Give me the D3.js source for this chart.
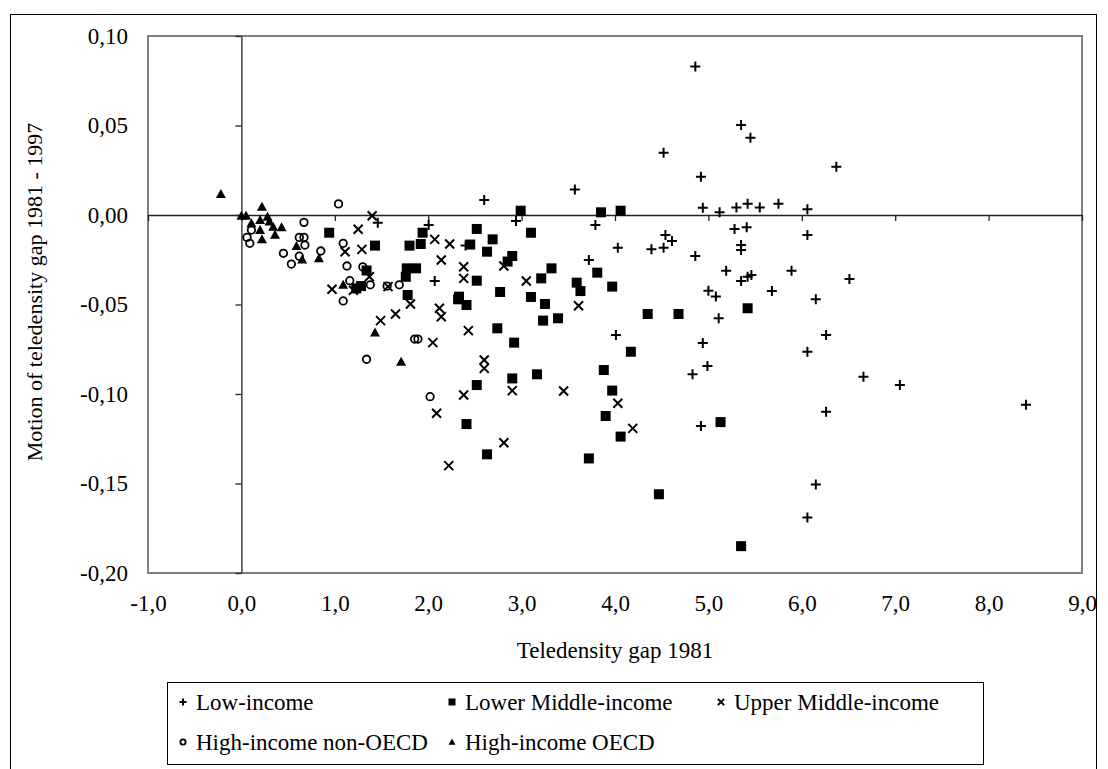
<!DOCTYPE html>
<html>
<head>
<meta charset="utf-8">
<script src="https://cdn.jsdelivr.net/npm/d3@7"></script>
<style>
body { margin: 0; background: #fff; }
svg text { font-family: "Liberation Serif", "Times New Roman", Times, "DejaVu Serif", serif; fill: #000; }
</style>
</head>
<body>
<div id="chart"></div>
<script>
var w = 1108;
var h = 769;
var serif = "'Liberation Serif', 'Times New Roman', Times, 'DejaVu Serif', serif";

// values, [teledensity gap 1981, motion 1981-1997]
var lowIncome = [[2.60,0.0084],[1.46,-0.0043],[2.005,-0.0056],[2.40,-0.017],[2.07,-0.0369],[2.94,-0.0034],
  [4.52,0.0348],[4.92,0.0214],[3.57,0.0143],[4.94,0.0040],[5.12,0.0016],[3.79,-0.0056],[4.03,-0.0183],
  [4.54,-0.0112],[4.61,-0.0145],[4.52,-0.0183],[4.39,-0.0192],[4.86,-0.0229],[3.72,-0.0251],[5.0,-0.0423],
  [5.08,-0.0455],[4.01,-0.067],[4.94,-0.0715],[4.99,-0.0843],[4.83,-0.089],[4.92,-0.1179],[5.11,-0.0577],
  [4.86,0.083],[5.35,0.0503],[5.45,0.0432],[6.37,0.027],[5.30,0.0042],[5.42,0.0063],[5.55,0.0042],
  [5.75,0.0063],[6.06,0.0032],[5.28,-0.0078],[5.41,-0.0069],[5.35,-0.0168],[5.35,-0.0196],[6.06,-0.0112],
  [5.19,-0.0311],[5.89,-0.0311],[5.35,-0.0369],[5.42,-0.0345],[5.46,-0.0335],[6.51,-0.0358],[5.68,-0.0425],
  [6.15,-0.0471],[6.26,-0.067],[6.06,-0.0764],[6.66,-0.0903],[7.05,-0.095],[6.26,-0.1099],[6.15,-0.1505],
  [6.06,-0.169],[8.40,-0.106]];
var lowerMiddle = [[0.94,-0.0099],[1.43,-0.0171],[1.34,-0.031],[1.28,-0.0397],[1.23,-0.041],[1.94,-0.0099],
  [1.92,-0.0162],[1.80,-0.0171],[2.45,-0.0165],[2.52,-0.0078],[2.69,-0.0136],[2.63,-0.0205],[2.90,-0.0229],
  [2.85,-0.026],[2.52,-0.0367],[1.77,-0.0298],[1.87,-0.0298],[1.76,-0.0345],[2.77,-0.043],[2.99,0.0024],
  [3.10,-0.0099],[1.78,-0.0447],[2.33,-0.0456],[3.10,-0.0458],[3.85,0.0015],[4.06,0.0024],[3.32,-0.0298],
  [3.21,-0.0354],[3.81,-0.0322],[3.59,-0.0378],[3.63,-0.0425],[3.97,-0.040],[3.25,-0.0497],[3.23,-0.059],
  [3.39,-0.0577],[4.35,-0.0553],[4.68,-0.0553],[4.17,-0.0764],[3.165,-0.089],[3.88,-0.0866],[3.97,-0.0981],
  [3.90,-0.1123],[4.06,-0.1238],[3.72,-0.136],[5.13,-0.1157],[2.32,-0.0471],[2.41,-0.0503],[2.74,-0.0633],
  [2.92,-0.0713],[2.90,-0.0913],[2.52,-0.095],[2.41,-0.1168],[2.63,-0.1337],[5.42,-0.0521],[5.35,-0.185],
  [4.47,-0.156]];
var upperMiddle = [[0.97,-0.0415],[1.40,-0.0004],[1.25,-0.008],[1.11,-0.0205],[1.29,-0.0192],[1.37,-0.0345],
  [1.20,-0.042],[1.57,-0.040],[2.07,-0.0136],[2.23,-0.0162],[2.14,-0.0251],[2.81,-0.0285],[2.38,-0.0289],
  [2.38,-0.0354],[3.05,-0.0369],[1.81,-0.0497],[1.65,-0.0553],[1.49,-0.059],[2.12,-0.0521],[2.14,-0.0568],
  [2.05,-0.0713],[2.43,-0.0646],[2.60,-0.081],[2.60,-0.0857],[2.90,-0.0981],[2.38,-0.1006],[2.09,-0.1108],
  [2.81,-0.1272],[2.22,-0.140],[3.61,-0.0507],[3.45,-0.0983],[4.03,-0.1052],[4.19,-0.1192]];
var highNonOecd = [[1.04,0.0062],[0.107,-0.0084],[0.06,-0.0125],[0.09,-0.0158],[0.67,-0.0041],[0.62,-0.0125],
  [0.67,-0.0125],[0.68,-0.0168],[0.62,-0.023],[0.45,-0.0214],[0.535,-0.0274],[0.85,-0.0201],[1.09,-0.0158],
  [1.13,-0.0285],[1.30,-0.029],[1.16,-0.0367],[1.38,-0.039],[1.56,-0.0397],[1.69,-0.039],[1.09,-0.048],
  [1.855,-0.0693],[1.89,-0.0693],[1.34,-0.0806],[2.02,-0.1015]];
var highOecd = [[-0.22,0.0117],[0.0,-0.0004],[0.05,-0.0004],[0.22,0.0046],[0.107,-0.0046],[0.2,-0.0028],
  [0.28,-0.001],[0.30,-0.0037],[0.34,-0.0065],[0.43,-0.0069],[0.36,-0.011],[0.22,-0.0136],[0.2,-0.0084],
  [0.59,-0.0173],[0.65,-0.0248],[0.83,-0.0242],[1.09,-0.039],[1.43,-0.0657],[1.71,-0.082]];

var seriesNames = ["Low-income", "Lower Middle-income", "Upper Middle-income", "High-income non-OECD", "High-income OECD"];
var seriesData = [lowIncome, lowerMiddle, upperMiddle, highNonOecd, highOecd];
var seriesShapes = ["plus", "square", "cross", "circle", "triangle"];

var xTicks = [-1, 0, 1, 2, 3, 4, 5, 6, 7, 8, 9];
var yTicks = [0.10, 0.05, 0.00, -0.05, -0.10, -0.15, -0.20];

var locale = d3.formatLocale({decimal: ",", thousands: ".", grouping: [3], currency: ["", ""], minus: "-"});
var fmtX = locale.format(".1f");
var fmtY = locale.format(".2f");

var svg = d3.select("#chart").append("svg")
    .attr("width", w)
    .attr("height", h);

// outer frame
svg.append("rect")
    .attr("x", 10.5).attr("y", 14.5)
    .attr("width", 1086).attr("height", 800)
    .attr("fill", "none").attr("stroke", "#000").attr("stroke-width", 1);

var x = d3.scaleLinear().domain([-1, 9]).range([148, 1082]);
var y = d3.scaleLinear().domain([-0.2, 0.1]).range([573, 36]);

// plot area border
svg.append("rect")
    .attr("x", x(-1)).attr("y", y(0.1))
    .attr("width", x(9) - x(-1)).attr("height", y(-0.2) - y(0.1))
    .attr("fill", "none").attr("stroke", "#808080").attr("stroke-width", 2);

// zero axes with ticks
svg.append("g")
    .attr("transform", "translate(0," + y(0) + ")")
    .call(d3.axisBottom(x).tickValues(xTicks).tickSize(6).tickSizeOuter(0).tickFormat(""));
svg.append("g")
    .attr("transform", "translate(" + x(0) + ",0)")
    .call(d3.axisLeft(y).tickValues(yTicks).tickSize(6).tickSizeOuter(0).tickFormat(""));
svg.selectAll(".domain, .tick line").attr("stroke", "#222").attr("stroke-width", 1.3);

// tick labels along the plot edges
var xLab = svg.append("g")
    .attr("transform", "translate(0," + y(-0.2) + ")")
    .call(d3.axisBottom(x).tickValues(xTicks).tickSize(0).tickPadding(22).tickFormat(fmtX));
var yLab = svg.append("g")
    .attr("transform", "translate(" + x(-1) + ",0)")
    .call(d3.axisLeft(y).tickValues(yTicks).tickSize(0).tickPadding(20).tickFormat(fmtY));
xLab.select(".domain").remove();
yLab.select(".domain").remove();
xLab.attr("font-family", serif).attr("font-size", 23);
yLab.attr("font-family", serif).attr("font-size", 23);
svg.selectAll(".tick text").attr("fill", "#000");

svg.append("text")
    .attr("x", (x(-1) + x(9)) / 2).attr("y", 658)
    .attr("text-anchor", "middle").attr("font-size", 23)
    .text("Teledensity gap 1981");
svg.append("text")
    .attr("transform", "translate(42,292) rotate(-90)")
    .attr("text-anchor", "middle").attr("font-size", 22)
    .text("Motion of teledensity gap 1981 - 1997");

function drawMarker(g, shape, s) {
    if (shape == "plus") {
        g.append("path").attr("d", "M" + (-s) + ",0H" + s + "M0," + (-s) + "V" + s)
            .attr("stroke", "#000").attr("stroke-width", 2).attr("fill", "none");
    } else if (shape == "cross") {
        var c = s * 0.9;
        g.append("path").attr("d", "M" + (-c) + "," + (-c) + "L" + c + "," + c + "M" + (-c) + "," + c + "L" + c + "," + (-c))
            .attr("stroke", "#000").attr("stroke-width", 2).attr("fill", "none");
    } else if (shape == "square") {
        g.append("rect").attr("x", -s).attr("y", -s).attr("width", 2 * s).attr("height", 2 * s).attr("fill", "#000");
    } else if (shape == "circle") {
        g.append("circle").attr("r", s * 0.75).attr("fill", "none").attr("stroke", "#000").attr("stroke-width", 1.8);
    } else if (shape == "triangle") {
        g.append("path").attr("d", "M0," + (-s) + "L" + s + "," + (s * 0.8) + "L" + (-s) + "," + (s * 0.8) + "Z")
            .attr("fill", "#000");
    }
}

// draw the series in reverse so low-income sits on top
for (var k = seriesData.length - 1; k >= 0; k--) {
    svg.append("g").selectAll("g")
        .data(seriesData[k])
        .enter()
        .append("g")
        .attr("transform", function(d) { return "translate(" + x(d[0]) + "," + y(d[1]) + ")"; })
        .each(function() { drawMarker(d3.select(this), seriesShapes[k], 5); });
}

// legend
svg.append("rect")
    .attr("x", 167.5).attr("y", 682.5)
    .attr("width", 816).attr("height", 82)
    .attr("fill", "#fff").attr("stroke", "#000").attr("stroke-width", 1);

var legendX = [183, 452, 721];
var legendY = [702, 742];
seriesNames.forEach(function(name, i) {
    var lx = legendX[i % 3];
    var ly = legendY[Math.floor(i / 3)];
    var g = svg.append("g").attr("transform", "translate(" + lx + "," + ly + ")");
    drawMarker(g, seriesShapes[i], 3.5);
    g.append("text").attr("x", 13).attr("y", 8).attr("font-size", 23).text(name);
});
</script>
</body>
</html>
